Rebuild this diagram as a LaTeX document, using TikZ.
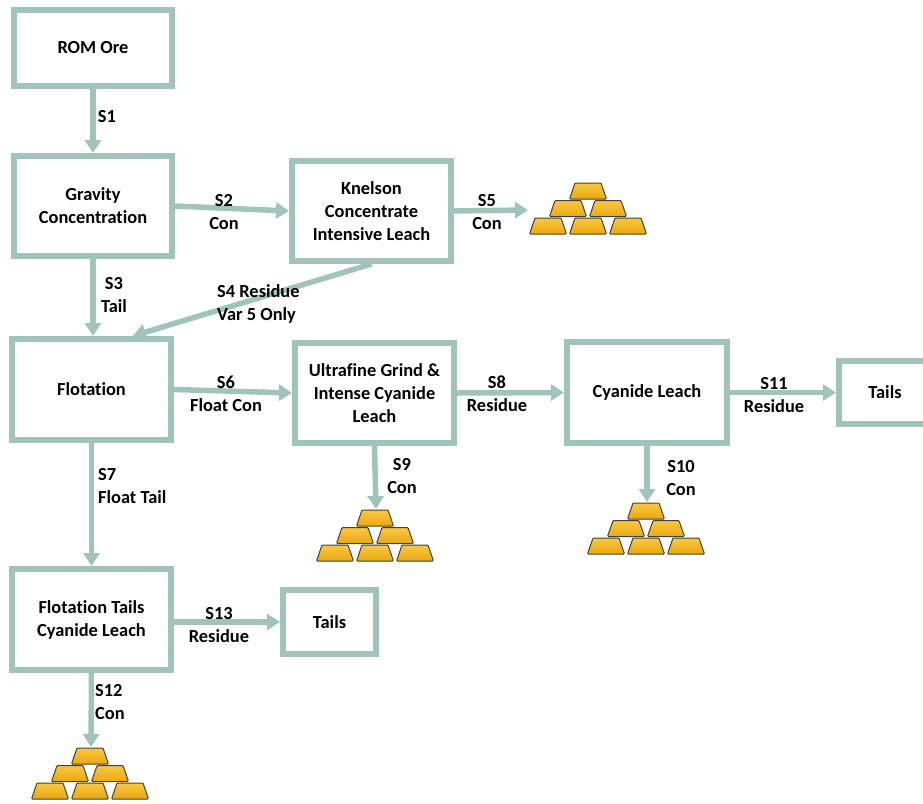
\documentclass[tikz,border=0pt]{standalone}
\usepackage{fontspec}
\setmainfont{Carlito}[Ligatures=NoCommon]
\usetikzlibrary{arrows.meta,calc}
\definecolor{flowgreen}{HTML}{A0C4BA}
\definecolor{goldtop}{HTML}{F8C844}
\definecolor{goldbot}{HTML}{EBA80C}
\definecolor{goldline}{HTML}{404040}

% one pile of six gold bars, #1 = top left corner
\newcommand{\goldpile}[1]{%
\begin{scope}[shift={(#1)}]
\foreach \cx/\ty in {58/0,38/17.5,78/17.5,18/35,58/35,98/35}
  \draw[bar] (\cx-18.5,\ty+16) -- (\cx-13,\ty) -- (\cx+13,\ty) -- (\cx+18.5,\ty+16) -- cycle;
\end{scope}}

\begin{document}
\begin{tikzpicture}[x=1pt,y=-1pt,
  unit/.style={draw=flowgreen,line width=6pt,fill=white,align=center,inner sep=2pt},
  stream/.style={align=center,inner sep=0pt},
  flow/.style={draw=flowgreen,line width=5.5pt,-{Triangle[width=16pt,length=13pt]}},
  bar/.style={draw=goldline,line width=1pt,rounded corners=1pt,top color=goldtop,bottom color=goldbot},
  every node/.style={font=\fontsize{18.4}{23}\selectfont\bfseries}]
\useasboundingbox (0,0) rectangle (923,803);

\node[unit,minimum width=158pt,minimum height=76pt] (rom) at (93,48) {ROM Ore};
\node[unit,minimum width=158pt,minimum height=100pt] (grav) at (93,206) {Gravity\\Concentration};
\node[unit,minimum width=159pt,minimum height=100pt] (knel) at (371.5,211) {Knelson\\Concentrate\\Intensive Leach};
\node[unit,minimum width=159pt,minimum height=101pt] (flot) at (91.5,389.5) {Flotation};
\node[unit,minimum width=159pt,minimum height=100pt] (ultra) at (374.5,393) {Ultrafine Grind \&\\Intense Cyanide\\Leach};
\node[unit,minimum width=160pt,minimum height=101pt] (cyan) at (647,392.5) {Cyanide Leach};
\node[unit,minimum width=92pt,minimum height=63pt] (tailsR) at (885,392.5) {Tails};
\node[unit,minimum width=159pt,minimum height=101pt] (ftcl) at (91.5,619.5) {Flotation Tails\\Cyanide Leach};
\node[unit,minimum width=93pt,minimum height=64pt] (tailsB) at (329.5,622) {Tails};

\goldpile{530,183}
\goldpile{317,510}
\goldpile{588,503}
\goldpile{32,748}
\coordinate (gold5) at (528,210);
\coordinate (gold9) at (376,509);
\coordinate (gold10) at (647,502);
\coordinate (gold12) at (91,747);
\coordinate (flotin) at ($(flot.north west)!0.75!(flot.north east)$);

\draw[flow] (rom.south) -- (grav.north);
\draw[flow] (grav.east) -- (knel.west);
\draw[flow] (grav.south) -- (grav.south |- flot.north);
\draw[flow] (knel.south) -- (flotin);
\draw[flow] (knel.east) -- (gold5);
\draw[flow] (flot.east) -- (ultra.west);
\draw[flow] (flot.south) -- (ftcl.north);
\draw[flow] (ultra.east) -- (cyan.west);
\draw[flow] (ultra.south) -- (gold9);
\draw[flow] (cyan.south) -- (gold10);
\draw[flow] (cyan.east) -- (tailsR.west);
\draw[flow] (ftcl.south) -- (gold12);
\draw[flow] (ftcl.east |- tailsB.west) -- (tailsB.west);

\node[stream] (s1) at (107,117) {S1};
\node[stream] (s2) at (224,212) {S2\\Con};
\node[stream] (s3) at (114,295) {S3\\Tail};
\node[stream,align=left,anchor=west] (s4) at (217,304) {S4 Residue\\Var 5 Only};
\node[stream] (s5) at (487,212) {S5\\Con};
\node[stream] (s6) at (226,394) {S6\\Float Con};
\node[stream,align=left,anchor=west] (s7) at (98,486) {S7\\Float Tail};
\node[stream] (s8) at (497,394) {S8\\Residue};
\node[stream] (s9) at (402,476) {S9\\Con};
\node[stream] (s10) at (681,478) {S10\\Con};
\node[stream] (s11) at (774,395) {S11\\Residue};
\node[stream,align=left,anchor=west] (s12) at (95,702) {S12\\Con};
\node[stream] (s13) at (219,625) {S13\\Residue};
\end{tikzpicture}
\end{document}
